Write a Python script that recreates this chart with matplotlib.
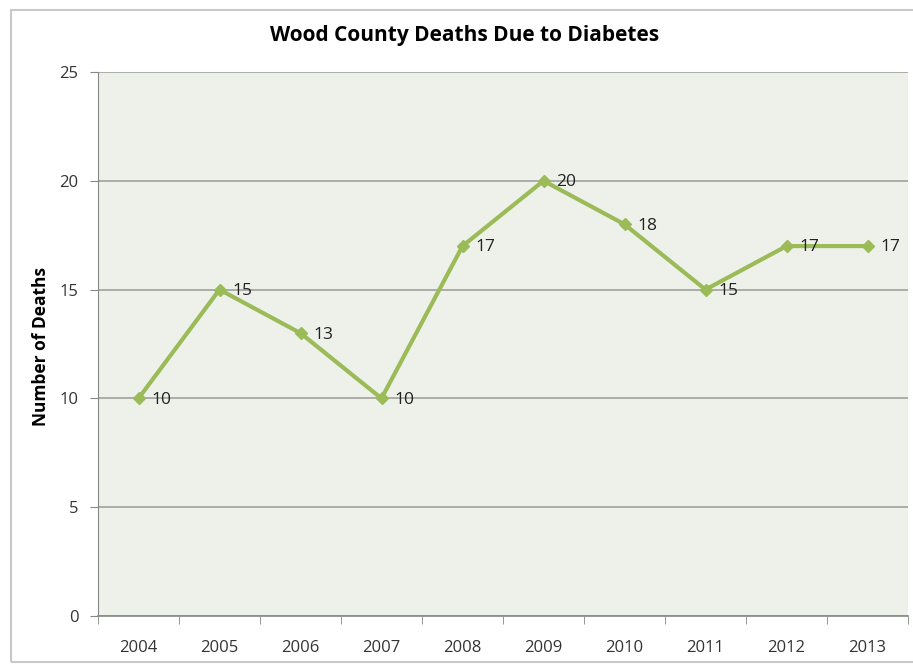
import matplotlib
matplotlib.use("Agg")
import matplotlib.pyplot as plt
from matplotlib.patches import Rectangle

years = ["2004", "2005", "2006", "2007", "2008", "2009", "2010", "2011", "2012", "2013"]
deaths = [10, 15, 13, 10, 17, 20, 18, 15, 17, 17]
yticks = [0, 5, 10, 15, 20, 25]

plt.rcParams['font.family'] = ['Open Sans', 'DejaVu Sans']

fig = plt.figure(figsize=(9.13, 6.64), dpi=100)
fig.patch.set_facecolor('white')
fig.add_artist(Rectangle((11/913, 2/664), 1.2, 652/664, transform=fig.transFigure,
                         fill=False, edgecolor='#c8c8c8', linewidth=1.5))

ax = fig.add_axes([98/913, 48/664, 810/913, 544/664])
ax.set_facecolor('#eef1e9')
x = list(range(len(years)))
ax.plot(x, deaths, color='#9bbb59', linewidth=3, marker='D', markersize=6, zorder=3)
for xi, v in zip(x, deaths):
    ax.annotate(str(v), (xi, v), xytext=(9, -1), textcoords='offset points',
                ha='left', va='center', fontsize=12.5, color='#222222', zorder=4)

ax.set_xlim(-0.5, len(years) - 0.5)
ax.set_ylim(0, 25)
ax.set_yticks(yticks)
ax.set_yticklabels([str(t) for t in yticks])
ax.set_xticks(x)
ax.set_xticklabels(years)
ax.set_xticks([i - 0.5 for i in range(len(years) + 1)], minor=True)
ax.tick_params(axis='x', which='major', length=0, pad=17, labelsize=12, colors='#333333')
ax.tick_params(axis='x', which='minor', length=6, color='#888888')
ax.tick_params(axis='y', length=6, color='#888888', labelsize=12, labelcolor='#333333', pad=8)
ax.grid(axis='y', color='#a0a0a0', linewidth=1.2)
ax.set_axisbelow(True)
for s in ['top', 'right']:
    ax.spines[s].set_visible(False)
ax.spines['left'].set_color('#888888')
ax.spines['bottom'].set_color('#888888')
ax.spines['bottom'].set_linewidth(1.2)

fig.text(41/913, 1 - 346/664, 'Number of Deaths', rotation=90, ha='center', va='center',
         fontsize=12.5, fontweight='bold')
fig.text(465/913, 1 - 35/664, 'Wood County Deaths Due to Diabetes', ha='center', va='center',
         fontsize=15, fontweight='bold')

fig.savefig('out.png', dpi=100)
